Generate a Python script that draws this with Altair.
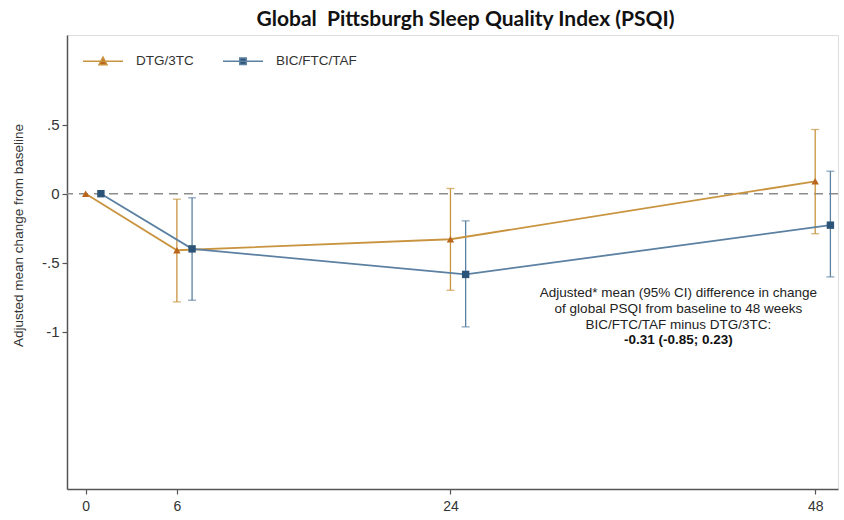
import altair as alt
import pandas as pd

# ---------------- data ----------------
weeks = [0, 6, 24, 48]
series = ["DTG/3TC", "BIC/FTC/TAF"]
dtg_mean = [0.0, -0.41, -0.33, 0.09]
dtg_lo = [None, -0.784, -0.70, -0.29]
dtg_hi = [None, -0.04, 0.038, 0.465]
bic_mean = [0.0, -0.40, -0.585, -0.228]
bic_lo = [None, -0.772, -0.965, -0.603]
bic_hi = [None, -0.03, -0.197, 0.163]
week_offset = [0, 1]          # BIC points are drawn one week to the right
x_ticks = [0, 6, 24, 48]
y_ticks = [0.5, 0, -0.5, -1]
y_tick_labels = [".5", "0", "-.5", "-1"]

line_colors = ["#C99440", "#5B80A2"]
marker_colors = ["#B9661C", "#2C5478"]
marker_shapes = ["triangle-up", "square"]
legend_paths = [
    "M-1,0L1,0M-0.2,0.17L0,-0.21L0.2,0.17Z",
    "M-1,0L1,0M-0.16,-0.16L0.16,-0.16L0.16,0.16L-0.16,0.16Z",
]

title_text = "Global\u00a0 Pittsburgh Sleep Quality Index (PSQI)"
y_title = "Adjusted mean change from baseline"
note_lines = [
    "Adjusted* mean (95% CI) difference in change",
    "of global PSQI from baseline to 48 weeks",
    "BIC/FTC/TAF minus DTG/3TC:",
]
note_bold = "-0.31 (-0.85; 0.23)"
note_x = 39.0
note_y = -0.721
note_bold_y = -1.062

# ---------------- table ----------------
rows = []
for g, off, m, lo, hi in [
    (series[0], week_offset[0], dtg_mean, dtg_lo, dtg_hi),
    (series[1], week_offset[1], bic_mean, bic_lo, bic_hi),
]:
    for w, mv, l, h in zip(weeks, m, lo, hi):
        rows.append({"grp": g, "week": w, "xpos": w + off, "mean": mv, "lo": l, "hi": h})
df = pd.DataFrame(rows)
ci = df.dropna(subset=["lo"])
caps = pd.concat([
    ci[["grp", "xpos"]].assign(val=ci["lo"]),
    ci[["grp", "xpos"]].assign(val=ci["hi"]),
])
note_df = pd.DataFrame({"x": [note_x], "y": [note_y], "yb": [note_bold_y]})

# ---------------- scales / axes ----------------
FONT = "Liberation Sans"
xscale = alt.Scale(domain=[-1.23, 49.5], nice=False, zero=False)
yscale = alt.Scale(domain=[-2.14, 1.15], nice=False, zero=False)

label_expr = " : ".join(
    f"datum.value == {v} ? '{t}'" for v, t in zip(y_ticks, y_tick_labels)
) + " : datum.label"

xaxis = alt.Axis(values=x_ticks, title=None, grid=False, tickSize=5,
                 labelPadding=5, labelFontSize=14, labelFont=FONT,
                 labelColor="#333", domainColor="#555", tickColor="#555",
                 domainWidth=1.5, tickWidth=1.2, labelFlush=False)
yaxis = alt.Axis(values=y_ticks, labelExpr=label_expr, grid=False, tickSize=5,
                 labelPadding=3, labelFontSize=15, labelFont=FONT,
                 labelColor="#333", domainColor="#555", tickColor="#555",
                 domainWidth=1.5, tickWidth=1.2, title=y_title,
                 titleFont=FONT, titleFontSize=13.5, titleFontWeight="normal",
                 titleColor="#333", titleX=-49, titleY=200, titleAngle=270,
                 titleAlign="center", titleBaseline="middle")

X = alt.X("xpos:Q", scale=xscale, axis=xaxis)
Y = alt.Y("mean:Q", scale=yscale, axis=yaxis)

line_color = alt.Color("grp:N", scale=alt.Scale(domain=series, range=line_colors), legend=None)
mark_color = alt.Color("grp:N", scale=alt.Scale(domain=series, range=marker_colors), legend=None)

zero_rule = alt.Chart(note_df).mark_rule(
    color="#8C8C8C", strokeDash=[9, 6], strokeWidth=1.6
).encode(y=alt.Y(datum=0, scale=yscale, axis=yaxis))

lines = alt.Chart(df).mark_line(strokeWidth=1.8).encode(
    x=X, y=Y, color=line_color, detail="grp:N", order="week:Q"
)

bars = alt.Chart(ci).mark_rule(strokeWidth=1.3).encode(
    x=X,
    y=alt.Y("lo:Q", scale=yscale, axis=yaxis),
    y2="hi:Q",
    color=line_color,
)

cap_ticks = alt.Chart(caps).mark_tick(orient="horizontal", size=8, thickness=1.3).encode(
    x=X,
    y=alt.Y("val:Q", scale=yscale, axis=yaxis),
    color=line_color,
)

points = alt.Chart(df).mark_point(filled=True, size=55, opacity=1).encode(
    x=X, y=Y, color=mark_color,
    shape=alt.Shape("grp:N", scale=alt.Scale(domain=series, range=marker_shapes), legend=None),
)

legend_def = alt.Legend(
    orient="none", legendX=15, legendY=5, direction="horizontal", title=None,
    symbolSize=1600, symbolStrokeWidth=1.5, symbolOpacity=1,
    labelFont=FONT, labelFontSize=13.5, labelColor="#333",
    labelOffset=12, columnPadding=26, padding=0,
)
legend_layer = alt.Chart(df).mark_point(filled=True, strokeWidth=1.5, opacity=1).encode(
    fill=alt.Fill("grp:N", scale=alt.Scale(domain=series, range=marker_colors), legend=legend_def),
    stroke=alt.Stroke("grp:N", scale=alt.Scale(domain=series, range=line_colors), legend=legend_def),
    shape=alt.Shape("grp:N", scale=alt.Scale(domain=series, range=legend_paths), legend=legend_def),
).transform_filter("false")

note = alt.Chart(note_df).mark_text(
    font=FONT, fontSize=13.5, color="#222", align="center", baseline="middle", lineHeight=15.7
).encode(
    x=alt.X("x:Q", scale=xscale, axis=xaxis),
    y=alt.Y("y:Q", scale=yscale, axis=yaxis),
    text=alt.value(note_lines),
)
note_b = alt.Chart(note_df).mark_text(
    font=FONT, fontSize=13.5, fontWeight="bold", color="#111", align="center", baseline="middle"
).encode(
    x=alt.X("x:Q", scale=xscale, axis=xaxis),
    y=alt.Y("yb:Q", scale=yscale, axis=yaxis),
    text=alt.value(note_bold),
)

chart = alt.layer(
    zero_rule, bars, cap_ticks, lines, points, legend_layer, note, note_b
).resolve_scale(
    color="independent", shape="independent", fill="independent", stroke="independent"
).properties(
    width=771, height=454, autosize="none",
    padding={"left": 67, "top": 35, "right": 6, "bottom": 31},
    title=alt.TitleParams(text=title_text, font="Lato", fontSize=21, fontWeight="bold",
                          color="#111", anchor="middle", dx=13, offset=5),
).configure_view(stroke=None).configure(background="white")

chart.save("out.html", embed_options={"renderer": "svg", "actions": False})
